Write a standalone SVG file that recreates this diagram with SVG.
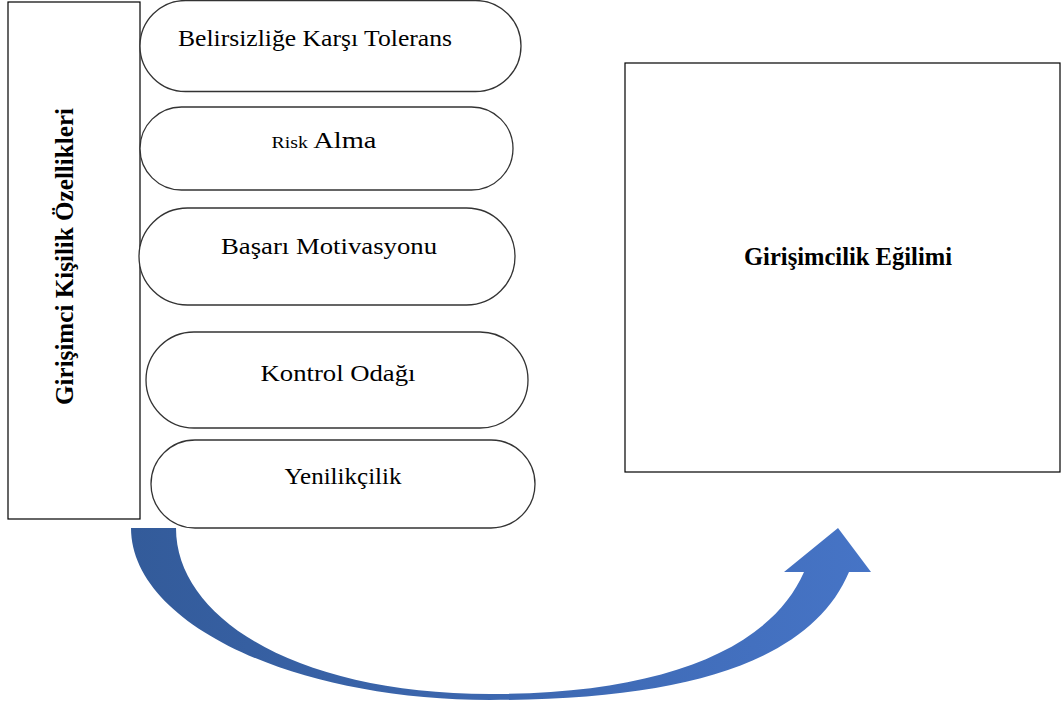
<svg xmlns="http://www.w3.org/2000/svg" width="1062" height="703" viewBox="0 0 1062 703">
<style>
.box{fill:#fff;stroke:#000;stroke-width:1.2}
.pill{fill:#fff;stroke:#333;stroke-width:1.3}
.t{font-family:"Liberation Serif","Times New Roman",serif;font-size:23px;fill:#000;text-anchor:middle}
.b{font-weight:bold;font-size:24.5px}
</style>
<defs>
<linearGradient id="g" x1="131" y1="0" x2="871" y2="0" gradientUnits="userSpaceOnUse">
<stop offset="0" stop-color="#335B9A"/>
<stop offset="1" stop-color="#4674C6"/>
</linearGradient>
</defs>
<g id="left-box">
<rect class="box" x="8" y="2" width="132" height="517"/>
<text class="t b" transform="translate(73,256.5) rotate(-90)" textLength="297" lengthAdjust="spacingAndGlyphs">Girişimci Kişilik Özellikleri</text>
</g>
<g id="pill-1">
<rect class="pill" x="140" y="0.5" width="381" height="91" rx="45.5" ry="45.5"/>
<text class="t" x="315" y="46" textLength="274" lengthAdjust="spacingAndGlyphs">Belirsizliğe Karşı Tolerans</text>
</g>
<g id="pill-2">
<rect class="pill" x="140" y="107" width="373" height="83" rx="41.5" ry="41.5"/>
<text class="t" x="324" y="148" textLength="105" lengthAdjust="spacingAndGlyphs"><tspan font-size="16">Risk</tspan> Alma</text>
</g>
<g id="pill-3">
<rect class="pill" x="139" y="208" width="376" height="97" rx="48.5" ry="48.5"/>
<text class="t" x="329" y="254" textLength="216" lengthAdjust="spacingAndGlyphs">Başarı Motivasyonu</text>
</g>
<g id="pill-4">
<rect class="pill" x="146" y="332" width="382" height="96" rx="48" ry="48"/>
<text class="t" x="338" y="381" textLength="155" lengthAdjust="spacingAndGlyphs">Kontrol Odağı</text>
</g>
<g id="pill-5">
<rect class="pill" x="151" y="440" width="384" height="88" rx="44" ry="44"/>
<text class="t" x="343" y="484" textLength="117" lengthAdjust="spacingAndGlyphs">Yenilikçilik</text>
</g>
<g id="right-box">
<rect class="box" x="625" y="63" width="435" height="409"/>
<text class="t b" x="848" y="265" textLength="208" lengthAdjust="spacingAndGlyphs">Girişimcilik Eğilimi</text>
</g>
<g id="connectors">
<path fill="url(#g)" d="M131,528 C131,623 292,700 490,700 C690,700 812,660 849,572 L871,572 L838,528 L784,572 L804,572 C770,650 660,694 490,694 C300,694 176,620 176,528 Z"/>
</g>
</svg>
